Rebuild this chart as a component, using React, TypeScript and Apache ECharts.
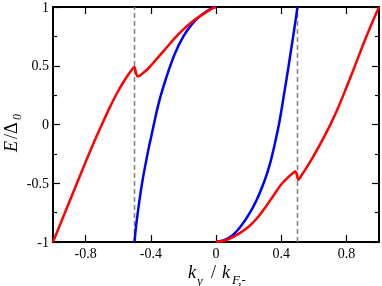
import React, { useEffect, useRef } from "react";
import * as echarts from "echarts";

// Red branch, left (k_y from -1 to 0)
const redLeftX = [-1, -0.95, -0.9, -0.85, -0.8, -0.75, -0.7, -0.65, -0.6, -0.55, -0.52, -0.505, -0.5, -0.495, -0.488, -0.48, -0.47, -0.45, -0.42, -0.4, -0.35, -0.3, -0.25, -0.2, -0.15, -0.1, -0.05, -0.02, 0];
const redLeftY = [-1, -0.83, -0.66, -0.49, -0.32, -0.155, 0.0, 0.15, 0.285, 0.4, 0.46, 0.485, 0.49, 0.465, 0.425, 0.41, 0.413, 0.435, 0.47, 0.5, 0.58, 0.66, 0.74, 0.81, 0.87, 0.92, 0.965, 0.99, 1];
// Red branch, right (k_y from 0 to 1)
const redRightX = [0, 0.05, 0.1, 0.15, 0.2, 0.25, 0.3, 0.35, 0.4, 0.45, 0.475, 0.485, 0.492, 0.5, 0.505, 0.515, 0.53, 0.55, 0.6, 0.65, 0.7, 0.75, 0.8, 0.85, 0.9, 0.95, 1];
const redRightY = [-1, -0.99, -0.96, -0.92, -0.87, -0.8, -0.71, -0.61, -0.51, -0.44, -0.41, -0.4, -0.41, -0.45, -0.47, -0.455, -0.42, -0.38, -0.265, -0.14, -0.005, 0.145, 0.315, 0.49, 0.67, 0.84, 1];
// Blue branch, left
const blueLeftX = [-0.5, -0.49, -0.47, -0.45, -0.42, -0.4, -0.35, -0.3, -0.25, -0.2, -0.15, -0.1, -0.05, -0.02, 0];
const blueLeftY = [-1, -0.86, -0.65, -0.47, -0.25, -0.12, 0.19, 0.42, 0.61, 0.75, 0.85, 0.92, 0.97, 0.995, 1];
// Blue branch, right
const blueRightX = [0, 0.05, 0.1, 0.15, 0.2, 0.25, 0.3, 0.33, 0.36, 0.39, 0.42, 0.44, 0.46, 0.48, 0.5];
const blueRightY = [-1, -0.985, -0.945, -0.87, -0.77, -0.64, -0.47, -0.34, -0.17, 0.03, 0.28, 0.45, 0.63, 0.81, 1];
// Dashed markers
const dashX = [-0.5, 0.5];
// Tick labels
const xTicks = [-0.8, -0.4, 0, 0.4, 0.8];

const pairs = (xs: number[], ys: number[]) => xs.map((x, i) => [x, ys[i]]);

const FONT = "'Liberation Serif', 'Times New Roman', serif";

export default function App() {
  const ref = useRef<HTMLDivElement>(null);
  useEffect(() => {
    const chart = echarts.init(ref.current!, null, { renderer: "svg" });
    const tickStyle = { show: true, inside: true, length: 7, lineStyle: { color: "#000", width: 1.2 } };
    const axisLine = { show: true, onZero: false, lineStyle: { color: "#000", width: 2 } };
    const xBase = {
      type: "value" as const,
      min: -1,
      max: 1,
      splitLine: { show: false },
      axisLine,
    };
    const yBase = {
      type: "value" as const,
      min: -1,
      max: 1,
      interval: 0.5,
      splitLine: { show: false },
      axisLine,
      axisTick: tickStyle,
      minorTick: { show: true, splitNumber: 2, length: 4, lineStyle: { color: "#000", width: 1.2 } },
    };
    const line = (data: number[][], color: string) => ({
      type: "line" as const,
      data,
      symbol: "none",
      smooth: 0.3,
      lineStyle: { color, width: 2.5 },
      z: 3,
    });
    chart.setOption({
      animation: false,
      grid: { left: 53, top: 5, right: 3, bottom: 44 },
      xAxis: [
        {
          ...xBase,
          position: "bottom",
          axisTick: { ...tickStyle, customValues: xTicks },
          axisLabel: { customValues: xTicks, color: "#000", fontSize: 14, fontFamily: FONT, margin: 4 },
        },
        {
          ...xBase,
          position: "top",
          axisTick: { ...tickStyle, customValues: xTicks },
          axisLabel: { show: false },
        },
      ],
      yAxis: [
        {
          ...yBase,
          position: "left",
          axisLabel: { color: "#000", fontSize: 14, fontFamily: FONT, margin: 4 },
        },
        {
          ...yBase,
          position: "right",
          axisLabel: { show: false },
        },
      ],
      series: [
        ...dashX.map((x) => ({
          type: "line" as const,
          data: [[x, -1], [x, 1]],
          symbol: "none",
          lineStyle: { color: "#808080", width: 1.5, type: [5, 3] },
          z: 2,
        })),
        line(pairs(blueLeftX, blueLeftY), "#0000ff"),
        line(pairs(blueRightX, blueRightY), "#0000ff"),
        line(pairs(redLeftX, redLeftY), "#ff0000"),
        line(pairs(redRightX, redRightY), "#ff0000"),
      ],
      graphic: [
        {
          type: "group",
          x: 11,
          y: 152,
          rotation: Math.PI / 2,
          children: [
            { type: "text", x: 0, y: 0, style: { text: "E", font: `italic 18px ${FONT}`, textVerticalAlign: "middle", fill: "#000" } },
            { type: "text", x: 13, y: 0, style: { text: "/Δ", font: `18px ${FONT}`, textVerticalAlign: "middle", fill: "#000" } },
            { type: "text", x: 32, y: 6, style: { text: "0", font: `italic 12px ${FONT}`, textVerticalAlign: "middle", fill: "#000" } },
          ],
        },
        { type: "text", x: 188, y: 272, style: { text: "k", font: `italic 18px ${FONT}`, textVerticalAlign: "middle", fill: "#000" } },
        { type: "text", x: 197, y: 280, style: { text: "y", font: `italic 13px ${FONT}`, textVerticalAlign: "middle", fill: "#000" } },
        { type: "text", x: 211, y: 272, style: { text: "/", font: `18px ${FONT}`, textVerticalAlign: "middle", fill: "#000" } },
        { type: "text", x: 222, y: 272, style: { text: "k", font: `italic 18px ${FONT}`, textVerticalAlign: "middle", fill: "#000" } },
        { type: "text", x: 232, y: 279, style: { text: "F,-", font: `italic 13px ${FONT}`, textVerticalAlign: "middle", fill: "#000" } },
      ],
    });
    return () => chart.dispose();
  }, []);
  return <div ref={ref} style={{ position: "fixed", left: 0, top: 0, width: 382, height: 286 }} />;
}
